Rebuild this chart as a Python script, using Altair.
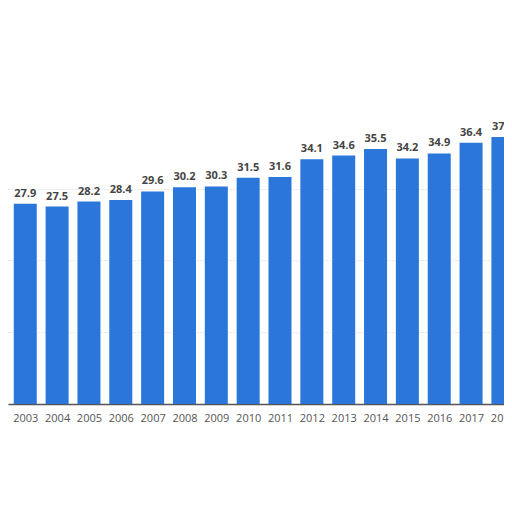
import altair as alt
import pandas as pd

years = list(range(2003, 2019))
values = [27.9, 27.5, 28.2, 28.4, 29.6, 30.2, 30.3, 31.5, 31.6, 34.1, 34.6, 35.5, 34.2, 34.9, 36.4, 37.2]
labels = ["27.9", "27.5", "28.2", "28.4", "29.6", "30.2", "30.3", "31.5", "31.6", "34.1", "34.6", "35.5", "34.2", "34.9", "36.4", "37.2"]

df = pd.DataFrame({"year": years, "value": values, "label": labels})

xscale = alt.Scale(domain=[2002.615, 2017.877], nice=False, zero=False)
yscale = alt.Scale(domain=[0, 50], nice=False)

xaxis = alt.Axis(values=years, format="d", title=None, grid=False, ticks=False,
                 labelFont="Open Sans", labelFontSize=11, labelColor="#555555",
                 labelPadding=8, labelFlush=False, labelOverlap=False, labelBound=False,
                 domainColor="#555555", domainWidth=1.5)
yaxis = alt.Axis(values=[10, 20, 30], title=None, labels=False, ticks=False, domain=False,
                 grid=True, gridColor="#d0d0d0", gridDash=[1, 2], gridWidth=1)

base = alt.Chart(df)

bars = base.mark_bar(size=23, color="#2a76da", clip=True).encode(
    x=alt.X("year:Q", scale=xscale, axis=xaxis),
    y=alt.Y("value:Q", scale=yscale, axis=yaxis),
)

text = base.mark_text(baseline="bottom", dy=-5, font="Open Sans", fontSize=11,
                      fontWeight="bold", color="#444444").encode(
    x=alt.X("year:Q", scale=xscale, axis=xaxis),
    y=alt.Y("value:Q", scale=yscale, axis=yaxis),
    text="label:N",
)

chart = (bars + text).properties(
    width=496, height=359,
    autosize=alt.AutoSizeParams(type="none"),
    padding={"left": 0, "right": 0, "top": 37, "bottom": 60},
).configure(background="white").configure_view(stroke=None).configure_axisX(labelOverlap=False)

chart.save("out.html", embed_options={"renderer": "svg", "actions": False})
